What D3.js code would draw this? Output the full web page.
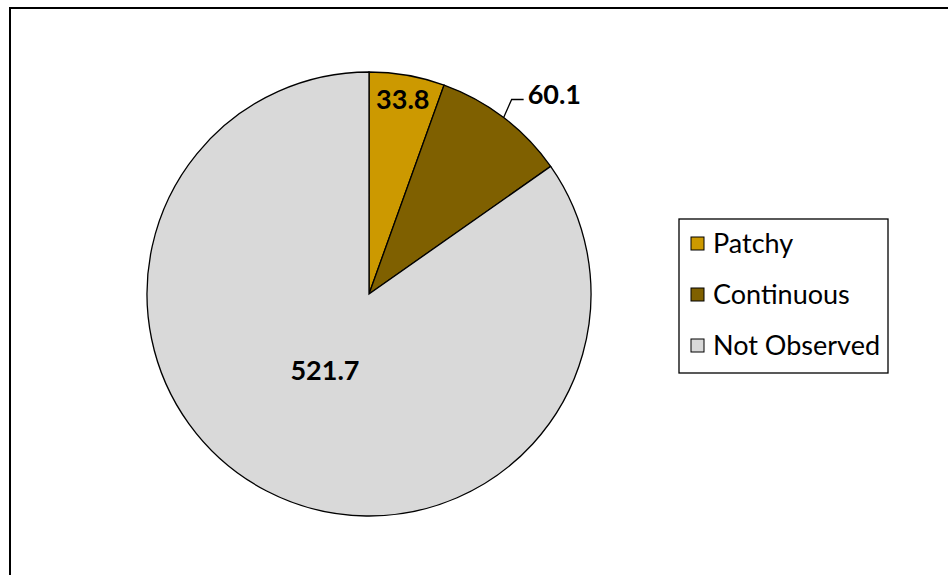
<!DOCTYPE html>
<meta charset="utf-8">
<script src="https://cdn.jsdelivr.net/npm/d3@7"></script>
<style>
body { margin: 0; background: #fff; }
text { font-family: Lato, "Open Sans", sans-serif; }
</style>
<body>
<script>
var categories = ["Patchy", "Continuous", "Not Observed"]
var values = [33.8, 60.1, 521.7]
var colors = ["#CC9900", "#7F6000", "#D9D9D9"]

var W = 948, H = 575
var cx = 369, cy = 294, r = 222

var svg = d3.select("body").append("svg").attr("width", W).attr("height", H)

// chart border (runs off right and bottom)
svg.append("path").attr("d", "M10,600 L10,8 L960,8").attr("fill", "none").attr("stroke", "#000").attr("stroke-width", 2)

var data = categories.map((c, i) => ({ name: c, value: values[i], color: colors[i] }))
var pie = d3.pie().sort(null).value(d => d.value)
var arcs = pie(data)
var arc = d3.arc().innerRadius(0).outerRadius(r)

var g = svg.append("g").attr("transform", "translate(" + cx + "," + cy + ")")
g.selectAll("path").data(arcs).enter().append("path")
  .attr("d", arc)
  .attr("fill", d => d.data.color)
  .attr("stroke", "#000").attr("stroke-width", 1.3)

function polar(a, rad) { return [rad * Math.sin(a), -rad * Math.cos(a)] }

// labels
var fs = 27
arcs.forEach((d, i) => {
  var mid = (d.startAngle + d.endAngle) / 2
  if (i == 0) {
    var p = polar(mid, 197)
    g.append("text").attr("x", p[0]).attr("y", p[1]).attr("dy", "0.35em").attr("text-anchor", "middle")
      .attr("font-weight", "bold").attr("font-size", fs).text(d.data.value)
  } else if (i == 1) {
    var p0 = polar(mid, r)
    var p1 = [p0[0] + 8, p0[1] - 18]
    var p2 = [p1[0] + 12, p1[1]]
    g.append("polyline").attr("points", [p0, p1, p2].map(p => p.join(",")).join(" "))
      .attr("fill", "none").attr("stroke", "#000").attr("stroke-width", 1.3)
    g.append("text").attr("x", p2[0] + 4).attr("y", p2[1] - 5).attr("dy", "0.35em")
      .attr("font-weight", "bold").attr("font-size", fs).text(d.data.value)
  } else {
    var p = polar(mid + 0.045, 88)
    g.append("text").attr("x", p[0]).attr("y", p[1]).attr("dy", "0.35em").attr("text-anchor", "middle")
      .attr("font-weight", "bold").attr("font-size", fs).text(d.data.value)
  }
})

// legend
var lg = svg.append("g").attr("transform", "translate(679,219)")
lg.append("rect").attr("width", 209).attr("height", 154).attr("fill", "#fff").attr("stroke", "#000").attr("stroke-width", 1.3)
var items = lg.selectAll("g.item").data(data).enter().append("g").attr("class", "item")
  .attr("transform", (d, i) => "translate(12," + (25 + i * 51) + ")")
items.append("rect").attr("x", 0).attr("y", -7).attr("width", 13).attr("height", 13)
  .attr("fill", d => d.color).attr("stroke", "#000").attr("stroke-width", 1)
items.append("text").attr("x", 22).attr("y", 0).attr("dy", "0.35em").attr("font-size", 27).text(d => d.name)
</script>
</body>
